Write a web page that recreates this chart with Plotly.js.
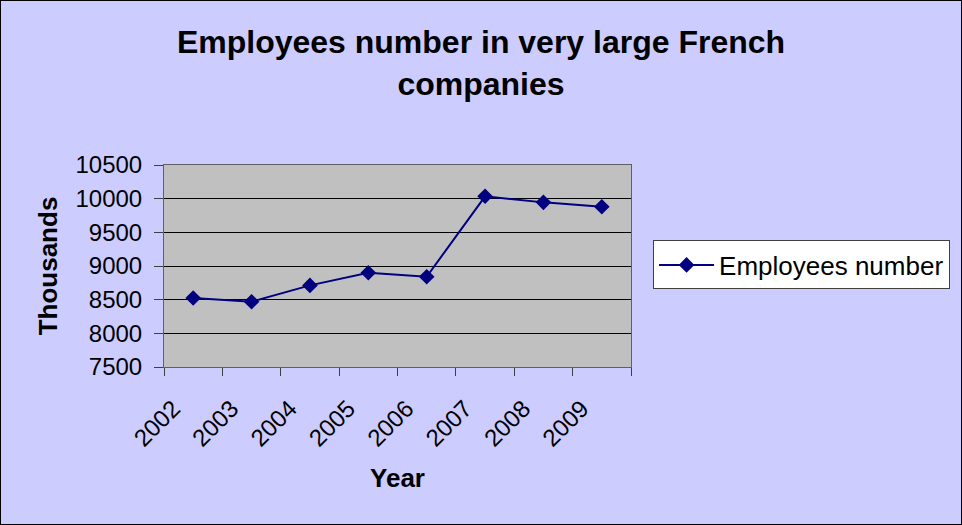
<!DOCTYPE html>
<html>
<head>
<meta charset="utf-8">
<script src="https://cdn.plot.ly/plotly-3.0.1.min.js"></script>
<style>
  html, body { margin: 0; padding: 0; background: #CCCCFF; }
  #chart { width: 962px; height: 525px; box-sizing: border-box; border: 1px solid #000000; }
</style>
</head>
<body>
<div id="chart"></div>
<script>
const years = ["2002", "2003", "2004", "2005", "2006", "2007", "2008", "2009"];
const employees = [8525, 8470, 8712, 8900, 8840, 10035, 9945, 9880];
const seriesName = "Employees number";
const titleText = "Employees number in very large French<br>companies";
const xTitle = "Year";
const yTitle = "Thousands";
const yTicks = [7500, 8000, 8500, 9000, 9500, 10000, 10500];

const FONT = "Liberation Sans, Arial, sans-serif";
const W = 960, H = 523;

const trace = {
  x: years,
  y: employees,
  name: seriesName,
  type: "scatter",
  mode: "lines+markers",
  line: { color: "#000080", width: 2 },
  marker: { symbol: "diamond", size: 12, color: "#000080" },
  showlegend: true
};

const layout = {
  width: W,
  height: H,
  paper_bgcolor: "#CCCCFF",
  plot_bgcolor: "#C0C0C0",
  margin: { l: 163, r: 329, t: 164, b: 157, pad: 0 },
  font: { family: FONT, color: "#000000", size: 24 },
  title: {
    text: titleText,
    font: { family: FONT, size: 32, color: "#000000", weight: "bold" },
    x: 0.5, xref: "container", xanchor: "center",
    y: 0.9, yref: "container", yanchor: "top"
  },
  xaxis: {
    type: "category",
    range: [-0.5, 7.5],
    tickson: "boundaries",
    ticks: "outside",
    ticklen: 8,
    tickcolor: "#404040",
    tickangle: -45,
    ticklabelstandoff: 17,
    ticklabelshift: -20,
    tickfont: { family: FONT, size: 24, color: "#000000" },
    showgrid: false,
    showline: true,
    linecolor: "#606060",
    linewidth: 1,
    mirror: true,
    automargin: false,
    title: { text: xTitle, font: { family: FONT, size: 26, color: "#000000", weight: "bold" }, standoff: 18 }
  },
  yaxis: {
    range: [7500, 10500],
    tickvals: yTicks,
    ticktext: yTicks.map(String),
    ticks: "outside",
    ticklen: 9,
    tickcolor: "#404040",
    ticklabelstandoff: 7,
    tickfont: { family: FONT, size: 24, color: "#000000" },
    showgrid: true,
    gridcolor: "#000000",
    gridwidth: 1,
    zeroline: false,
    showline: true,
    linecolor: "#606060",
    linewidth: 1,
    mirror: true,
    automargin: false,
    title: { text: yTitle, font: { family: FONT, size: 26, color: "#000000", weight: "bold" }, standoff: 10 }
  },
  legend: {
    x: 1.045, xanchor: "left",
    y: 0.505, yanchor: "middle",
    bgcolor: "#FFFFFF",
    bordercolor: "#404040",
    borderwidth: 1,
    font: { family: FONT, size: 26, color: "#000000" },
    itemwidth: 55
  }
};

Plotly.newPlot("chart", [trace], layout, { displayModeBar: false, staticPlot: true });
</script>
</body>
</html>
